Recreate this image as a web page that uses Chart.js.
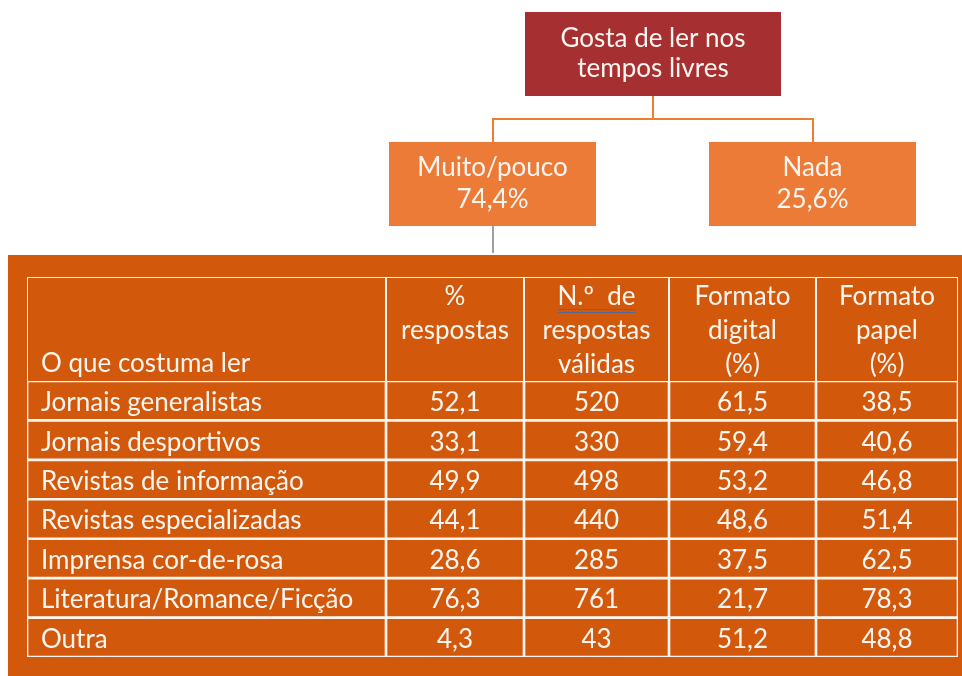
<!DOCTYPE html>
<html lang="pt">
<head>
<meta charset="utf-8">
<title>Gosta de ler nos tempos livres</title>
<script src="https://cdn.jsdelivr.net/npm/chart.js@4/dist/chart.umd.min.js"></script>
<style>
    html, body { margin: 0; padding: 0; background: #fff; }
    #wrap { position: relative; width: 962px; height: 676px; }
</style>
</head>
<body>
<div id="wrap"><canvas id="chart"></canvas></div>
<script>
// Data
const categories = [
    'Jornais generalistas',
    'Jornais desportivos',
    'Revistas de informação',
    'Revistas especializadas',
    'Imprensa cor-de-rosa',
    'Literatura/Romance/Ficção',
    'Outra'
];
const pctRespostas = [52.1, 33.1, 49.9, 44.1, 28.6, 76.3, 4.3];
const nRespostas = [520, 330, 498, 440, 285, 761, 43];
const formatoDigital = [61.5, 59.4, 53.2, 48.6, 37.5, 21.7, 51.2];
const formatoPapel = [38.5, 40.6, 46.8, 51.4, 62.5, 78.3, 48.8];
const headers = [
    ['O que costuma ler'],
    ['%', 'respostas'],
    ['N.º  de', 'respostas', 'válidas'],
    ['Formato', 'digital', '(%)'],
    ['Formato', 'papel', '(%)']
];
const rootLabel = ['Gosta de ler nos', 'tempos livres'];
const branchLabels = [['Muito/pouco', '74,4%'], ['Nada', '25,6%']];

// Layout
const colEdges = [0, 359, 497, 642, 789, 931];
const FONT = '26px Lato, "Open Sans", sans-serif';
const WHITE = '#fdf6f0';

function fmt(v) {
    return v.toFixed(1).replace('.', ',');
}

const columns = [
    categories,
    pctRespostas.map(fmt),
    nRespostas.map(String),
    formatoDigital.map(fmt),
    formatoPapel.map(fmt)
];

// one floating bar per cell, so the grid comes from the scales
const cellSets = columns.map((col, c) => ({
    label: headers[c].join(' '),
    data: categories.map(() => [colEdges[c], colEdges[c + 1]]),
    backgroundColor: 'rgba(0,0,0,0)',
    borderColor: WHITE,
    borderWidth: 1,
    borderSkipped: false,
    grouped: false,
    barPercentage: 1,
    categoryPercentage: 1
}));

function box(ctx, x1, y1, x2, y2, color, lines, lineH) {
    ctx.fillStyle = color;
    ctx.fillRect(x1, y1, x2 - x1, y2 - y1);
    ctx.fillStyle = WHITE;
    ctx.font = FONT;
    ctx.textAlign = 'center';
    ctx.textBaseline = 'middle';
    const cx = (x1 + x2) / 2;
    const cy = (y1 + y2) / 2;
    lines.forEach((t, i) => {
        ctx.fillText(t, cx, cy + (i - (lines.length - 1) / 2) * lineH);
    });
}

const tablePlugin = {
    id: 'tablePlugin',
    beforeDraw(chart) {
        const ctx = chart.ctx;
        const x = chart.scales.x;
        const area = chart.chartArea;
        ctx.save();
        ctx.fillStyle = '#fff';
        ctx.fillRect(0, 0, chart.width, chart.height);

        // tree
        ctx.strokeStyle = '#ED7D31';
        ctx.lineWidth = 2;
        ctx.beginPath();
        ctx.moveTo(653, 96); ctx.lineTo(653, 119);
        ctx.moveTo(493, 142); ctx.lineTo(493, 119); ctx.lineTo(813, 119); ctx.lineTo(813, 142);
        ctx.stroke();
        box(ctx, 525, 12, 781, 96, '#A52F31', rootLabel, 30);
        box(ctx, 389, 142, 596, 226, '#EC7B38', branchLabels[0], 32);
        box(ctx, 709, 142, 916, 226, '#EC7B38', branchLabels[1], 32);
        ctx.strokeStyle = '#a0a0a0';
        ctx.lineWidth = 2;
        ctx.beginPath();
        ctx.moveTo(493, 226); ctx.lineTo(493, 253);
        ctx.stroke();

        // panel
        ctx.fillStyle = '#D2580C';
        ctx.fillRect(8, 255, chart.width - 8, chart.height - 255);

        // header row
        const top = 277;
        ctx.strokeStyle = WHITE;
        ctx.lineWidth = 1;
        for (let c = 0; c < headers.length; c++) {
            const l = x.getPixelForValue(colEdges[c]);
            const r = x.getPixelForValue(colEdges[c + 1]);
            ctx.strokeRect(l + 0.5, top + 0.5, r - l - 1, area.top - top);
            ctx.fillStyle = WHITE;
            ctx.font = FONT;
            ctx.textBaseline = 'middle';
            if (c === 0) {
                ctx.textAlign = 'left';
                ctx.fillText(headers[c][0], l + 14, 364);
            } else {
                ctx.textAlign = 'center';
                const cx = (l + r) / 2;
                headers[c].forEach((t, i) => ctx.fillText(t, cx, 297 + i * 34));
            }
        }
        // double underline under "N.º de"
        const cx2 = (x.getPixelForValue(colEdges[2]) + x.getPixelForValue(colEdges[3])) / 2;
        ctx.strokeStyle = '#56679a';
        ctx.lineWidth = 1;
        ctx.beginPath();
        ctx.moveTo(cx2 - 39, 309.5); ctx.lineTo(cx2 + 39, 309.5);
        ctx.moveTo(cx2 - 39, 312.5); ctx.lineTo(cx2 + 39, 312.5);
        ctx.stroke();
        ctx.restore();
    },
    afterDatasetsDraw(chart) {
        const ctx = chart.ctx;
        const x = chart.scales.x;
        const y = chart.scales.y;
        ctx.save();
        ctx.fillStyle = WHITE;
        ctx.font = FONT;
        ctx.textBaseline = 'middle';
        columns.forEach((col, c) => {
            const l = x.getPixelForValue(colEdges[c]);
            const r = x.getPixelForValue(colEdges[c + 1]);
            col.forEach((txt, i) => {
                const py = y.getPixelForValue(i) + 2;
                if (c === 0) {
                    ctx.textAlign = 'left';
                    ctx.fillText(txt, l + 14, py);
                } else {
                    ctx.textAlign = 'center';
                    ctx.fillText(txt, (l + r) / 2, py);
                }
            });
        });
        ctx.restore();
    }
};

new Chart(document.getElementById('chart'), {
    type: 'bar',
    data: {
        labels: categories,
        datasets: cellSets
    },
    options: {
        indexAxis: 'y',
        responsive: true,
        maintainAspectRatio: false,
        animation: false,
        layout: { padding: { left: 27, right: 4, top: 381, bottom: 19 } },
        scales: {
            x: { type: 'linear', min: colEdges[0], max: colEdges[colEdges.length - 1], display: false },
            y: { type: 'category', display: false, offset: true }
        },
        plugins: {
            legend: { display: false },
            tooltip: { enabled: false }
        }
    },
    plugins: [tablePlugin]
});
</script>
</body>
</html>
